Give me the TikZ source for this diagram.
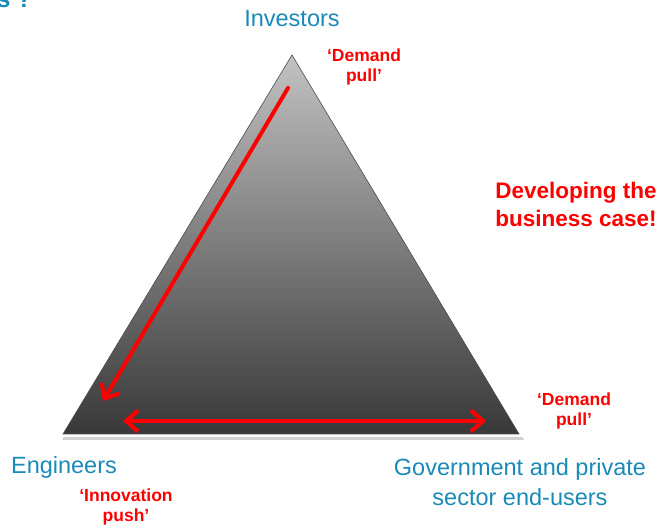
\documentclass[tikz,border=0pt]{standalone}
\usepackage{fontspec}
\setmainfont{Liberation Sans}
\usetikzlibrary{arrows.meta}
\definecolor{lblblue}{RGB}{25,138,184}
\definecolor{lblred}{RGB}{255,0,0}
\tikzset{
  role/.style={text=lblblue, inner sep=0pt, align=center, font=\fontsize{23.5}{30}\selectfont},
  note/.style={text=lblred, inner sep=0pt, align=center, font=\bfseries\fontsize{17.5}{20}\selectfont},
  bignote/.style={text=lblred, inner sep=0pt, align=center, font=\bfseries\fontsize{22.5}{28}\selectfont},
  redarrow/.style={draw=lblred, line width=4pt, line cap=round, line join=round}
}
\begin{document}
\begin{tikzpicture}[x=1pt,y=-1pt]
\useasboundingbox (0,0) rectangle (665,529);
% cut-off title remnant
\node[text=lblblue, font=\bfseries\fontsize{24}{28}\selectfont, inner sep=0pt, anchor=base west] (title) at (-3,8) {s ?};
% shadow
\fill[black, opacity=0.18] (64,437) -- (522,437) -- (524,440) -- (62,440) -- cycle;
% triangle
\shade[top color=black!24, bottom color=black!78, draw=black!70, line width=0.6pt]
  (292,55) -- (519,434) -- (63,434) -- cycle;
\coordinate (dA) at (288,88);
\coordinate (dB) at (103,401);
\coordinate (hA) at (123,421);
\coordinate (hB) at (486,421);
\draw[redarrow, -{Straight Barb[length=12pt,width=21pt]}] (dA) -- (dB);
\draw[redarrow, {Straight Barb[length=12pt,width=21pt]}-{Straight Barb[length=12pt,width=21pt]}] (hA) -- (hB);
% labels
\node[role] (inv) at (292,19) {Investors};
\node[role] (eng) at (64,467) {Engineers};
\node[role] (gov) at (520,482) {Government and private\\sector end-users};
\node[note] (dp1) at (364,67) {‘Demand\\pull’};
\node[note] (dp2) at (574,411) {‘Demand\\pull’};
\node[note] (ip) at (126,507) {‘Innovation\\push’};
\node[bignote] (dev) at (576,204) {Developing the\\business case!};
\end{tikzpicture}
\end{document}
